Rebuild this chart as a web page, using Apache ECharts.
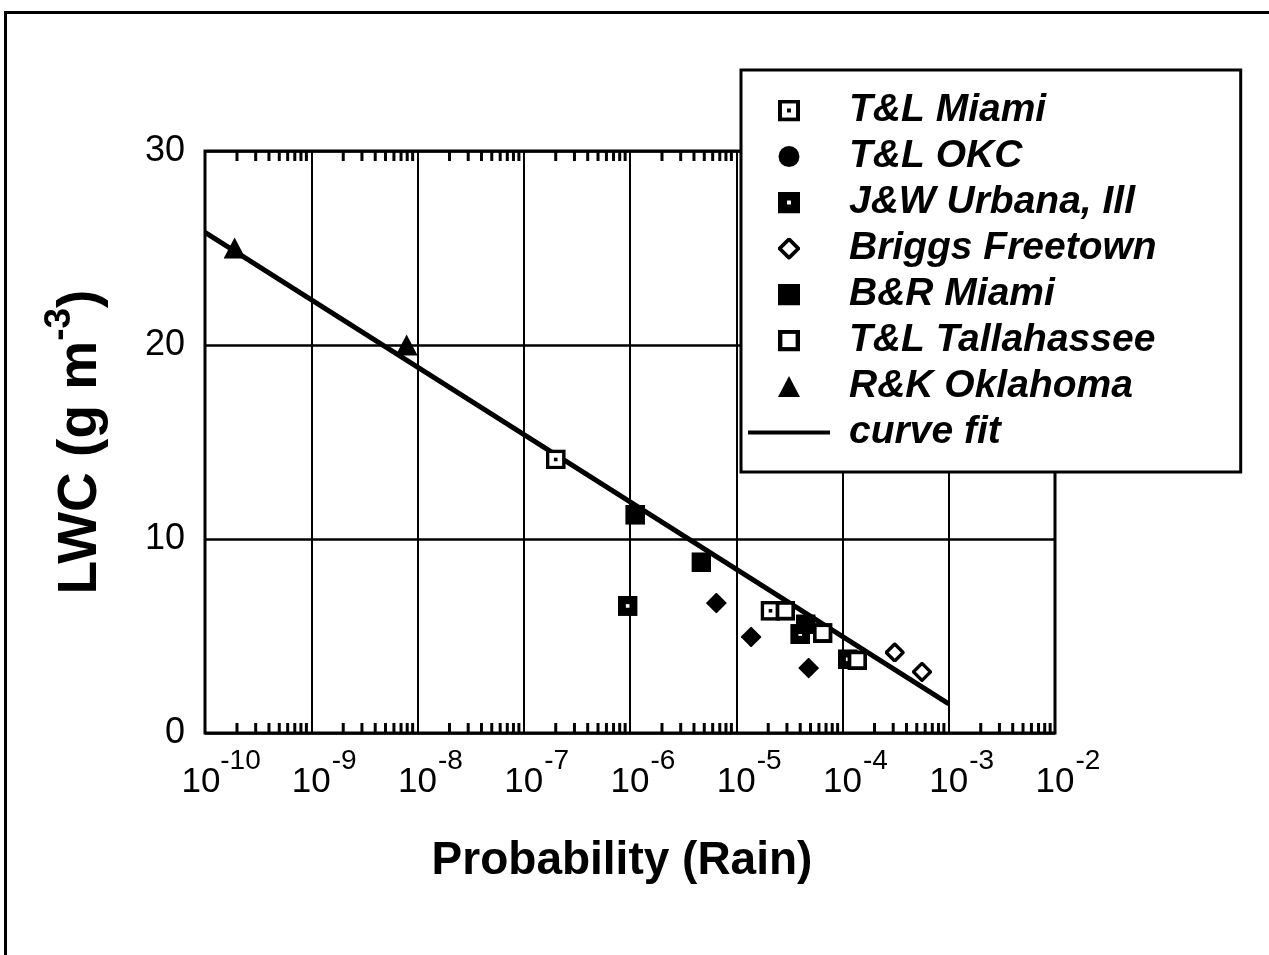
<!DOCTYPE html>
<html>
<head>
<meta charset="utf-8">
<script src="https://cdn.jsdelivr.net/npm/echarts@6/dist/echarts.min.js"></script>
<style>
  html, body { margin: 0; padding: 0; background: #fff; overflow: hidden; }
  #chart { position: absolute; left: 0; top: 0; width: 1269px; height: 955px; }
  #frame { position: absolute; left: 4px; top: 11px; width: 1300px; height: 1000px;
           border-top: 3px solid #000; border-left: 3px solid #000; pointer-events: none; }
</style>
</head>
<body>
<div id="chart"></div>
<div id="frame"></div>
<script>
// ---- data ----
const xTickValues = [1e-10, 1e-9, 1e-8, 1e-7, 1e-6, 1e-5, 1e-4, 1e-3, 1e-2];
const yTickValues = [0, 10, 20, 30];
const seriesNames = ['T&L Miami', 'T&L OKC', 'J&W Urbana, Ill', 'Briggs Freetown',
                     'B&R Miami', 'T&L Tallahassee', 'R&K Oklahoma', 'curve fit'];

const tlMiami      = [[2.0e-7, 14.1], [2.1e-5, 6.3]];
const tlOkc        = [[6.5e-6, 6.7], [1.38e-5, 4.95], [4.8e-5, 3.35]];
const jwUrbana     = [[9.5e-7, 6.55], [4.0e-5, 5.1], [1.12e-4, 3.8]];
const briggs       = [[3.1e-4, 4.15], [5.6e-4, 3.15]];
const brMiami      = [[1.12e-6, 11.25], [4.7e-6, 8.8], [4.5e-5, 5.6]];
const tlTallahassee= [[2.9e-5, 6.3], [6.5e-5, 5.15], [1.38e-4, 3.75]];
const rkOklahoma   = [[1.9e-10, 25.0], [7.9e-9, 20.0]];
const curveFit     = [[1e-10, 25.8], [1e-3, 1.5]];

// minor tick positions (2..9 within each decade)
const minorMultipliers = [2, 3, 4, 5, 6, 7, 8, 9];
const decadeStarts = [1e-10, 1e-9, 1e-8, 1e-7, 1e-6, 1e-5, 1e-4, 1e-3];

// ---- symbols ----
function svgIcon(body, w, h) {
  w = w || 20; h = h || 20;
  const svg = "<svg xmlns='http://www.w3.org/2000/svg' width='" + (w * 2) + "' height='" + (h * 2) +
              "' viewBox='0 0 " + w + " " + h + "'>" + body + "</svg>";
  return 'image://data:image/svg+xml;charset=utf-8,' + encodeURIComponent(svg);
}
const SYM = {
  tlMiami: svgIcon("<rect x='1.8' y='1.8' width='16.4' height='16.4' fill='#fff' stroke='#000' stroke-width='3.6'/><rect x='8.2' y='8.2' width='3.6' height='3.6' fill='#000'/>"),
  circle: svgIcon("<circle cx='10' cy='10' r='9.5' fill='#000'/>"),
  jwUrbana: svgIcon("<rect x='0' y='0' width='20' height='20' fill='#000'/><rect x='8.2' y='8.2' width='3.6' height='3.6' fill='#fff'/>"),
  openDiamond: svgIcon("<polygon points='10,1.5 18.5,10 10,18.5 1.5,10' fill='#fff' stroke='#000' stroke-width='3.4'/>"),
  fillDiamond: svgIcon("<polygon points='10,0 20,10 10,20 0,10' fill='#000'/>"),
  brMiami: svgIcon("<rect x='0' y='0' width='20' height='20' fill='#000'/>"),
  tlTall: svgIcon("<rect x='2' y='2' width='16' height='16' fill='#fff' stroke='#000' stroke-width='4'/>"),
  triangle: svgIcon("<polygon points='10,0.5 20,19.5 0,19.5' fill='#000'/>"),
  line: svgIcon("<rect x='0' y='9' width='82' height='4' fill='#000'/>", 82, 22)
};

const bottomTicks = [];
const topTicks = [];
decadeStarts.forEach(d => minorMultipliers.forEach(m => {
  bottomTicks.push({ value: [d * m, yTickValues[0]], symbolOffset: [0, -5] });
  topTicks.push({ value: [d * m, yTickValues[yTickValues.length - 1]], symbolOffset: [0, 5] });
}));

const FONT = "'Liberation Sans', Arial, Helvetica, sans-serif";

function xLabel(v) {
  const e = Math.round(Math.log10(v));
  const s = String(e);
  const n = s.length > 2 ? 2 : 1;
  return '{p' + n + '| }{b|10}{s' + n + '|' + s + '}';
}

function scatter(name, data, symbol, size) {
  return {
    name: name, type: 'scatter', data: data, symbol: symbol, symbolSize: size,
    itemStyle: { color: '#000', opacity: 1 }, z: 5, clip: false
  };
}

const chart = echarts.init(document.getElementById('chart'), null, { renderer: 'canvas' });
chart.setOption({
  animation: false,
  backgroundColor: '#fff',
  textStyle: { fontFamily: FONT, color: '#000' },
  grid: {
    left: 205, right: 214, top: 151, bottom: 222,
    containLabel: false, outerBoundsMode: 'none',
    show: true, borderColor: '#000', borderWidth: 3, backgroundColor: 'transparent'
  },
  xAxis: {
    type: 'log', logBase: 10,
    min: xTickValues[0], max: xTickValues[xTickValues.length - 1],
    splitNumber: 8,
    axisLine: { show: false },
    axisTick: { show: false },
    splitLine: { show: true, lineStyle: { color: '#000', width: 2 } },
    axisLabel: {
      margin: 14, color: '#000', fontFamily: FONT,
      showMinLabel: true, showMaxLabel: true, hideOverlap: false,
      formatter: xLabel,
      rich: {
        b: { fontSize: 35, lineHeight: 53, verticalAlign: 'bottom', fontFamily: FONT, color: '#000' },
        s1: { fontSize: 28, lineHeight: 53, verticalAlign: 'top', width: 27, fontFamily: FONT, color: '#000' },
        s2: { fontSize: 28, lineHeight: 53, verticalAlign: 'top', width: 40, fontFamily: FONT, color: '#000' },
        p1: { width: 27, fontSize: 10, lineHeight: 53 },
        p2: { width: 32, fontSize: 10, lineHeight: 53 }
      }
    },
    name: 'Probability (Rain)',
    nameLocation: 'middle', nameGap: 105,
    nameTextStyle: { fontSize: 46, fontWeight: 'bold', color: '#000', fontFamily: FONT, padding: [0, 16, 0, 0] }
  },
  yAxis: {
    type: 'value', min: yTickValues[0], max: yTickValues[yTickValues.length - 1], interval: 10,
    axisLine: { show: false },
    axisTick: { show: false },
    splitLine: { show: true, lineStyle: { color: '#000', width: 2.5 } },
    axisLabel: { fontSize: 36, color: '#000', margin: 20, fontFamily: FONT },
    name: '{a|LWC (g m}{s|-3}{a|)}',
    nameLocation: 'middle', nameGap: 97,
    nameTextStyle: {
      color: '#000', fontFamily: FONT, fontSize: 55, fontWeight: 'bold',
      rich: {
        a: { fontSize: 55, fontWeight: 'bold', lineHeight: 67, verticalAlign: 'bottom', fontFamily: FONT, color: '#000' },
        s: { fontSize: 37, fontWeight: 'bold', lineHeight: 67, verticalAlign: 'top', fontFamily: FONT, color: '#000' }
      }
    }
  },
  legend: {
    orient: 'vertical', left: 741, top: 70, z: 20,
    padding: [21, 84, 20, 7],
    itemGap: 7, itemWidth: 82, itemHeight: 22,
    backgroundColor: '#fff', borderColor: '#000', borderWidth: 3, borderRadius: 0,
    selectedMode: false,
    itemStyle: { opacity: 1 },
    textStyle: { fontSize: 39, fontWeight: 'bold', fontStyle: 'italic', color: '#000',
                 fontFamily: FONT, lineHeight: 36, padding: [0, 0, 0, 14] },
    data: [
      { name: seriesNames[0], icon: SYM.tlMiami },
      { name: seriesNames[1], icon: SYM.circle },
      { name: seriesNames[2], icon: SYM.jwUrbana },
      { name: seriesNames[3], icon: SYM.openDiamond },
      { name: seriesNames[4], icon: SYM.brMiami },
      { name: seriesNames[5], icon: SYM.tlTall },
      { name: seriesNames[6], icon: SYM.triangle },
      { name: seriesNames[7], icon: SYM.line }
    ]
  },
  series: [
    {
      name: seriesNames[7], type: 'line', data: curveFit, symbol: 'none', z: 3,
      lineStyle: { color: '#000', width: 5 }, itemStyle: { color: '#000' }
    },
    scatter(seriesNames[0], tlMiami, SYM.tlMiami, 20),
    scatter(seriesNames[1], tlOkc, SYM.fillDiamond, 21),
    scatter(seriesNames[2], jwUrbana, SYM.jwUrbana, 20),
    scatter(seriesNames[3], briggs, SYM.openDiamond, 20),
    scatter(seriesNames[4], brMiami, SYM.brMiami, 20),
    scatter(seriesNames[5], tlTallahassee, SYM.tlTall, 20),
    scatter(seriesNames[6], rkOklahoma, SYM.triangle, 22),
    {
      name: 'minor-bottom', type: 'scatter', data: bottomTicks, symbol: 'rect',
      symbolSize: [3, 10], itemStyle: { color: '#000', opacity: 1 }, silent: true, clip: false, z: 1
    },
    {
      name: 'minor-top', type: 'scatter', data: topTicks, symbol: 'rect',
      symbolSize: [3, 10], itemStyle: { color: '#000', opacity: 1 }, silent: true, clip: false, z: 1
    }
  ]
});
</script>
</body>
</html>
